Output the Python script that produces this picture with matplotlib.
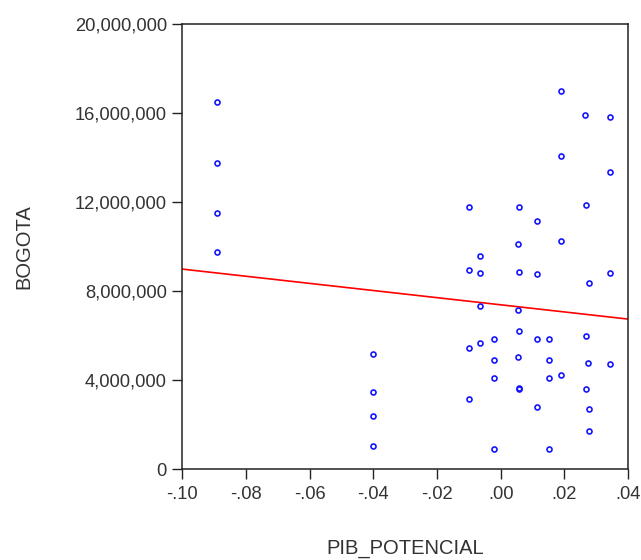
import numpy as np
import matplotlib
matplotlib.use("Agg")
import matplotlib.pyplot as plt
from matplotlib.ticker import FuncFormatter

# PIB_POTENCIAL (x) vs BOGOTA (y)
pib = [-0.089, -0.089, -0.089, -0.089,
       -0.040, -0.040, -0.040, -0.040,
       0.019, 0.0266, 0.0343, 0.019, 0.0343,
       -0.0101, 0.0058, 0.0268, 0.0114, 0.0053, 0.019,
       -0.0065, -0.0101, -0.0065, 0.0058, 0.0114, 0.0342,
       0.0277, -0.0065, 0.0053, 0.0058,
       -0.002, 0.0115, 0.0152, 0.0267, -0.0065, -0.0101,
       -0.002, 0.0053, 0.0152, 0.0275, 0.0342,
       -0.002, 0.0152, 0.019, 0.0057, 0.0057, 0.0267,
       -0.0101, 0.0115, 0.0277, 0.0277, -0.002, 0.0152]
bogota = [16.49, 13.75, 11.50, 9.75,
          5.17, 3.46, 2.38, 1.03,
          17.00, 15.90, 15.83, 14.07, 13.32,
          11.79, 11.76, 11.88, 11.15, 10.11, 10.23,
          9.59, 8.94, 8.82, 8.84, 8.76, 8.82,
          8.37, 7.33, 7.15, 6.22,
          5.86, 5.83, 5.86, 5.99, 5.65, 5.44,
          4.90, 5.02, 4.90, 4.75, 4.73,
          4.09, 4.09, 4.22, 3.60, 3.62, 3.58,
          3.16, 2.80, 2.71, 1.72, 0.89, 0.89]
pib = np.array(pib)
bogota = np.array(bogota) * 1e6

x_ticks = [-0.10, -0.08, -0.06, -0.04, -0.02, 0.00, 0.02, 0.04]
y_ticks = [0, 4e6, 8e6, 12e6, 16e6, 20e6]

plt.rcParams['font.family'] = ['Liberation Sans', 'DejaVu Sans']

fig = plt.figure(figsize=(6.41, 5.6), dpi=100)
ax = fig.add_axes([0.284, 0.1625, 0.696, 0.795])

# regression line
slope, intercept = np.polyfit(pib, bogota, 1)
xs = np.array([-0.10, 0.04])
ax.plot(xs, intercept + slope * xs, color="red", lw=1.2, zorder=2)

ax.plot(pib, bogota, linestyle="none", marker="o", markersize=3.6,
        markerfacecolor="none", markeredgecolor="#1414ff", mew=1.2, zorder=3)

ax.set_xlim(-0.10, 0.04)
ax.set_ylim(0, 20e6)
ax.set_xticks(x_ticks)
ax.set_yticks(y_ticks)

def xfmt(v, pos):
    s = f"{v:.2f}"
    return s.replace("0.", ".", 1)

ax.xaxis.set_major_formatter(FuncFormatter(xfmt))
ax.yaxis.set_major_formatter(FuncFormatter(lambda v, p: f"{int(round(v)):,}"))

ax.tick_params(axis="both", direction="out", length=7, width=1,
               labelsize=13.2, labelcolor="#333333", color="#222222")
ax.tick_params(axis="x", pad=5)
ax.tick_params(axis="y", pad=4)
for sp in ax.spines.values():
    sp.set_linewidth(1.1)
    sp.set_color("#222222")

ax.set_xlabel("PIB_POTENCIAL", fontsize=14.5, color="#333333", labelpad=26)
ax.set_ylabel("BOGOTA", fontsize=14.5, color="#333333", labelpad=30)

fig.savefig("out.png", dpi=100)
